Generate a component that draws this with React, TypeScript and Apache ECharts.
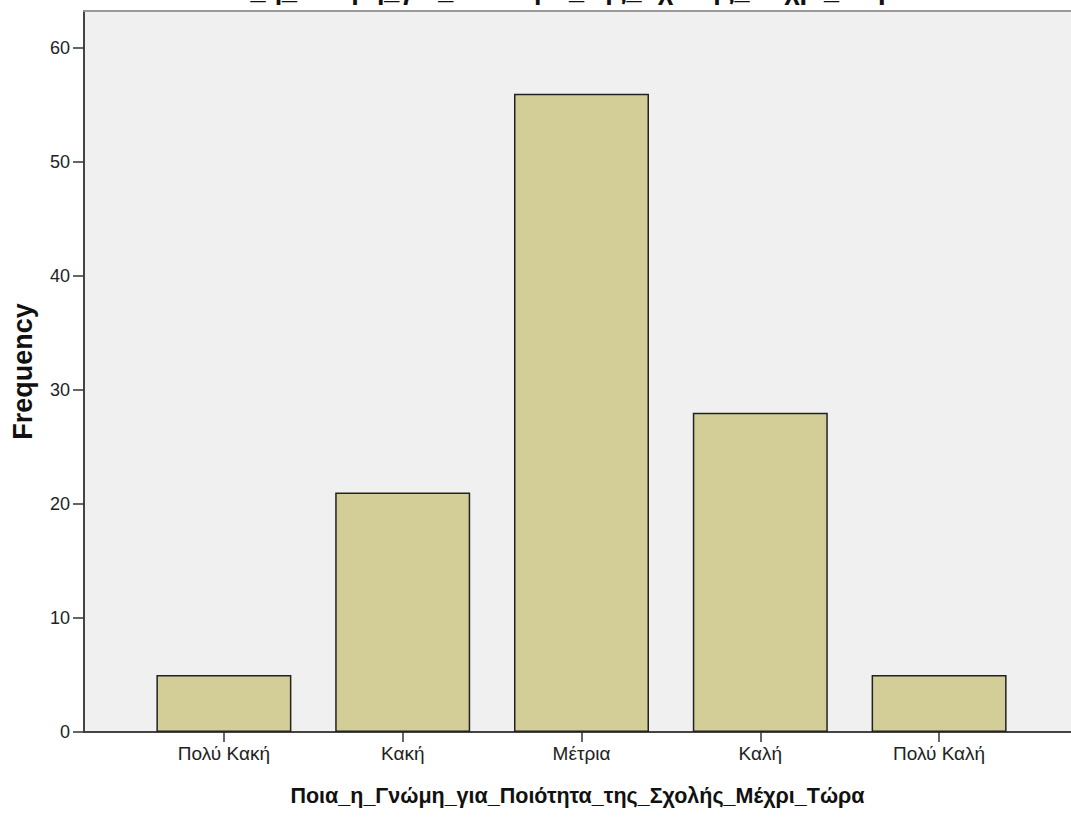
import React, { useEffect, useRef } from "react";
import * as echarts from "echarts";

const categories = ["Πολύ Κακή", "Κακή", "Μέτρια", "Καλή", "Πολύ Καλή"];
const frequencies = [5, 21, 56, 28, 5];
const yTicks = { min: 0, max: 63.25, interval: 10 };
const chartTitle = "Ποια_η_Γνώμη_για_Ποιότητα_της_Σχολής_Μέχρι_Τώρα";
const xTitle = "Ποια_η_Γνώμη_για_Ποιότητα_της_Σχολής_Μέχρι_Τώρα";
const yTitle = "Frequency";

const FONT = "'Liberation Sans', Arial, sans-serif";

export default function App() {
  const ref = useRef<HTMLDivElement>(null);
  useEffect(() => {
    if (!ref.current) return;
    const chart = echarts.init(ref.current, null, { renderer: "svg" });
    chart.setOption({
      animation: false,
      textStyle: { fontFamily: FONT },
      graphic: [
        {
          type: "text",
          x: 551,
          y: 3,
          style: {
            text: chartTitle,
            font: `bold 27px ${FONT}`,
            fill: "#111",
            textAlign: "center",
            textVerticalAlign: "bottom",
          },
        },
      ],
      grid: [
        {
          left: 84,
          top: 11,
          right: -8,
          bottom: 85,
          show: true,
          backgroundColor: "#F0F0F0",
          borderWidth: 0,
        },
        {
          left: 134.5,
          top: 11,
          right: 42.5,
          bottom: 85,
        },
      ],
      xAxis: [
        {
          gridIndex: 0,
          type: "value",
          min: 0,
          max: 1,
          axisLine: { show: true, lineStyle: { color: "#444", width: 2 } },
          axisTick: { show: false },
          axisLabel: { show: false },
          splitLine: { show: false },
          name: xTitle,
          nameLocation: "middle",
          nameGap: 53,
          nameTextStyle: { fontFamily: FONT, fontWeight: "bold", fontSize: 21.5, color: "#111" },
        },
        {
          gridIndex: 1,
          type: "category",
          data: categories,
          axisLine: { show: false },
          axisTick: { show: true, alignWithLabel: true, length: 10, lineStyle: { color: "#333", width: 1.5 } },
          axisLabel: { color: "#222", fontSize: 19, margin: 12, fontFamily: FONT },
          splitLine: { show: false },
        },
        {
          gridIndex: 0,
          type: "value",
          position: "top",
          min: 0,
          max: 1,
          axisLine: { show: true, lineStyle: { color: "#999", width: 2 } },
          axisTick: { show: false },
          axisLabel: { show: false },
          splitLine: { show: false },
        },
      ],
      yAxis: [
        {
          gridIndex: 0,
          type: "value",
          min: yTicks.min,
          max: yTicks.max,
          interval: yTicks.interval,
          axisLine: { show: true, lineStyle: { color: "#444", width: 2 } },
          axisTick: { show: true, length: 11, lineStyle: { color: "#333", width: 1.5 } },
          axisLabel: { color: "#222", fontSize: 18, margin: 14, fontFamily: FONT, showMaxLabel: false },
          splitLine: { show: false },
          name: yTitle,
          nameLocation: "middle",
          nameGap: 48,
          nameTextStyle: { fontFamily: FONT, fontWeight: "bold", fontSize: 27, color: "#111" },
        },
        {
          gridIndex: 1,
          type: "value",
          min: yTicks.min,
          max: yTicks.max,
          interval: yTicks.interval,
          show: false,
          splitLine: { show: false },
        },
      ],
      series: [
        {
          type: "bar",
          xAxisIndex: 1,
          yAxisIndex: 1,
          data: frequencies,
          barWidth: "75.5%",
          itemStyle: { color: "#D3CE97", borderColor: "#222", borderWidth: 1.5 },
        },
      ],
    });
    return () => chart.dispose();
  }, []);
  return (
    <div
      ref={ref}
      style={{ position: "fixed", left: 0, top: 0, width: 1071, height: 817, background: "#fff" }}
    />
  );
}
